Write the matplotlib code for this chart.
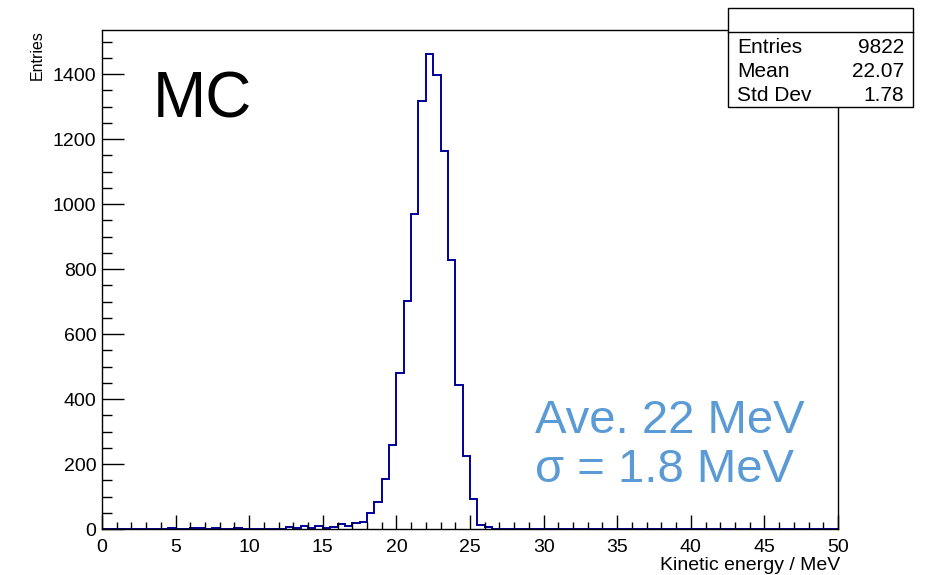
import numpy as np
import matplotlib
matplotlib.use("Agg")
import matplotlib.pyplot as plt
from matplotlib.patches import Rectangle

plt.rcParams['font.family'] = ['Liberation Sans', 'DejaVu Sans']

# ---- data (bin width 0.5 MeV, 0..50 MeV) ----
bin_edges_start = 0.0
bin_width = 0.5
n_bins = 100
# non-zero bins: lower bin edge (MeV) -> entries
bin_low = [4.5, 6.0, 6.5, 7.5, 9.0, 10.0, 10.5, 11.0, 12.0, 12.5, 13.0, 13.5,
           14.0, 14.5, 15.0, 15.5, 16.0, 16.5, 17.0, 17.5, 18.0, 18.5, 19.0,
           19.5, 20.0, 20.5, 21.0, 21.5, 22.0, 22.5, 23.0, 23.5, 24.0, 24.5,
           25.0, 25.5, 26.0]
bin_counts = [2, 2, 2, 2, 2, 1, 1, 1, 1, 5, 3, 8,
              3, 10, 4, 6, 15, 10, 19, 23, 48, 82, 154,
              259, 480, 703, 969, 1318, 1463, 1398, 1164, 829, 444, 226,
              92, 13, 5]
stats_labels = ["Entries", "Mean", "Std Dev"]
stats_values = ["9822", "22.07", "1.78"]
x_title = "Kinetic energy / MeV"
y_title = "Entries"

W, H = 929, 575
fig = plt.figure(figsize=(W / 100, H / 100), dpi=100)

def fx(x):
    return x / W

def fy(y):
    return 1 - y / H

ax_l, ax_r, ax_t, ax_b = 102, 838, 30, 529
ax = fig.add_axes([fx(ax_l), fy(ax_b), (ax_r - ax_l) / W, (ax_b - ax_t) / H])

edges = bin_edges_start + bin_width * np.arange(n_bins + 1)
values = np.zeros(n_bins)
for lo, c in zip(bin_low, bin_counts):
    values[int(round((lo - bin_edges_start) / bin_width))] = c

ax.stairs(values, edges, color='#000099', linewidth=1.4, baseline=0)

ax.set_xlim(0, 50)
ax.set_ylim(0, 1.05 * max(bin_counts))
ax.set_xticks(np.arange(0, 51, 5))
ax.set_xticks(np.arange(0, 51, 1), minor=True)
ax.set_yticks(np.arange(0, 1401, 200))
ax.set_yticks(np.arange(0, 1501, 50), minor=True)
ax.tick_params(axis='x', which='major', direction='in', length=10, width=1,
               labelsize=14, pad=7, top=False)
ax.tick_params(axis='x', which='minor', direction='in', length=5, width=1, top=False)
ax.tick_params(axis='y', which='major', direction='in', length=16, width=1,
               labelsize=14, pad=4, right=False)
ax.tick_params(axis='y', which='minor', direction='in', length=7, width=1, right=False)
for s in ax.spines.values():
    s.set_linewidth(1)

# axis titles placed at pixel positions (ROOT style: at the end of the axis)
fig.text(fx(840), fy(570), x_title, fontsize=14, ha='right', va='baseline')
fig.text(fx(42), fy(30), y_title, fontsize=11.5, ha='right', va='baseline',
         rotation=90, rotation_mode='anchor')

# MC label
fig.text(fx(153), fy(118), "MC", fontsize=46, color='black', ha='left', va='baseline')

# annotation in blue
fig.text(fx(535), fy(433), "Ave. 22 MeV", fontsize=34, color='#5B9BD5',
         ha='left', va='baseline')
fig.text(fx(535), fy(482), "σ = 1.8 MeV", fontsize=34, color='#5B9BD5',
         ha='left', va='baseline')

# stats box
bx_l, bx_r, bx_t, bx_b, bx_h = 728, 913, 8, 107, 32
rect = Rectangle((fx(bx_l), fy(bx_b)), (bx_r - bx_l) / W, (bx_b - bx_t) / H,
                 transform=fig.transFigure, facecolor='white', edgecolor='black',
                 linewidth=1, zorder=10)
fig.add_artist(rect)
fig.add_artist(plt.Line2D([fx(bx_l), fx(bx_r)], [fy(bx_h), fy(bx_h)],
                          transform=fig.transFigure, color='black', linewidth=1, zorder=11))
row_y = [53, 77, 101]
for lab, val, yy in zip(stats_labels, stats_values, row_y):
    fig.text(fx(737), fy(yy), lab, fontsize=15, ha='left', va='baseline', zorder=12)
    fig.text(fx(904), fy(yy), val, fontsize=15, ha='right', va='baseline', zorder=12)

fig.savefig("out.png", dpi=100)
